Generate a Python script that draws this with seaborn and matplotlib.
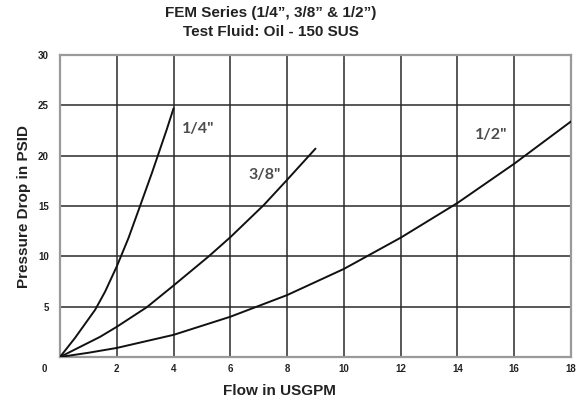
import numpy as np
import pandas as pd
import matplotlib
matplotlib.use("Agg")
import matplotlib.pyplot as plt
from matplotlib.transforms import ScaledTranslation
import seaborn as sns

# Data (flow in USGPM, pressure drop in PSID)
flow_14 = [0, 0.53, 1.24, 1.59, 2.0, 2.41, 2.82, 3.24, 3.47, 3.76, 4.0]
psid_14 = [0, 1.9, 4.7, 6.5, 9.0, 11.8, 15.0, 18.3, 20.2, 22.6, 24.7]

flow_38 = [0, 1.41, 2, 3.06, 4, 5.24, 6, 7.18, 8, 9]
psid_38 = [0, 2.0, 3.0, 4.95, 7.1, 10.0, 11.9, 15.1, 17.6, 20.7]

flow_12 = [0, 1, 2, 4, 6, 8, 10, 12, 14, 16, 18]
psid_12 = [0, 0.42, 0.9, 2.2, 4.0, 6.15, 8.75, 11.85, 15.3, 19.2, 23.4]

sizes = ['1/4"', '3/8"', '1/2"']
label_x = [4.87, 7.2, 15.2]
label_y = [22.6, 18.1, 22.1]

x_ticks = list(range(0, 19, 2))
y_ticks = list(range(5, 31, 5))

df = pd.concat([
    pd.DataFrame({'Flow': flow_14, 'PSID': psid_14, 'Size': sizes[0]}),
    pd.DataFrame({'Flow': flow_38, 'PSID': psid_38, 'Size': sizes[1]}),
    pd.DataFrame({'Flow': flow_12, 'PSID': psid_12, 'Size': sizes[2]}),
])

sns.set_style("white")
plt.rcParams['font.family'] = ['Liberation Sans', 'DejaVu Sans']

fig = plt.figure(figsize=(5.88, 4.04), dpi=100)
ax = fig.add_axes([60/588, 1 - 357/404, 511/588, 302/404])

# grid
for x in x_ticks[1:]:
    ax.axvline(x, color='#2a2a2a', lw=1.1, zorder=1)
for y in y_ticks:
    ax.axhline(y, color='#2a2a2a', lw=1.1, zorder=1)

sns.lineplot(data=df, x='Flow', y='PSID', hue='Size', sort=False, estimator=None,
             palette=['#111111'] * 3, linewidth=1.4, legend=False, ax=ax, zorder=3)

for s, lx, ly in zip(sizes, label_x, label_y):
    ax.text(lx, ly, s, fontsize=11.5, fontweight='bold', color='#4d4d4d',
            family=['Lato', 'DejaVu Sans'], ha='center', va='center')

ax.set_xlim(0, 18)
ax.set_ylim(0, 30)
ax.set_xticks(x_ticks)
ax.set_yticks(y_ticks)
ax.tick_params(axis='both', length=0, labelsize=7, colors='#222222')
ax.tick_params(axis='x', pad=5)
ax.tick_params(axis='y', pad=8)
for lab in ax.get_xticklabels() + ax.get_yticklabels():
    lab.set_fontweight('bold')
# the "0" sits left of the corner
ax.get_xticklabels()[0].set_transform(
    ax.get_xticklabels()[0].get_transform() + ScaledTranslation(-0.16, 0, fig.dpi_scale_trans))

for sp in ax.spines.values():
    sp.set_color('#9a9a9a')
    sp.set_linewidth(1.6)

ax.set_xlabel("Flow in USGPM", fontsize=11, fontweight='bold', color='#222222')
ax.set_ylabel("Pressure Drop in PSID", fontsize=11, fontweight='bold', color='#222222')
ax.xaxis.set_label_coords(0.43, -0.089)
ax.yaxis.set_label_coords(-0.056, 0.498)

fig.text(271/588, 1 - 13/404, "FEM Series (1/4\u201d, 3/8\u201d & 1/2\u201d)", ha='center', va='center',
         fontsize=11, fontweight='bold', color='#222222')
fig.text(271/588, 1 - 32/404, "Test Fluid: Oil - 150 SUS", ha='center', va='center',
         fontsize=11, fontweight='bold', color='#222222')

fig.savefig("out.png", dpi=100)
